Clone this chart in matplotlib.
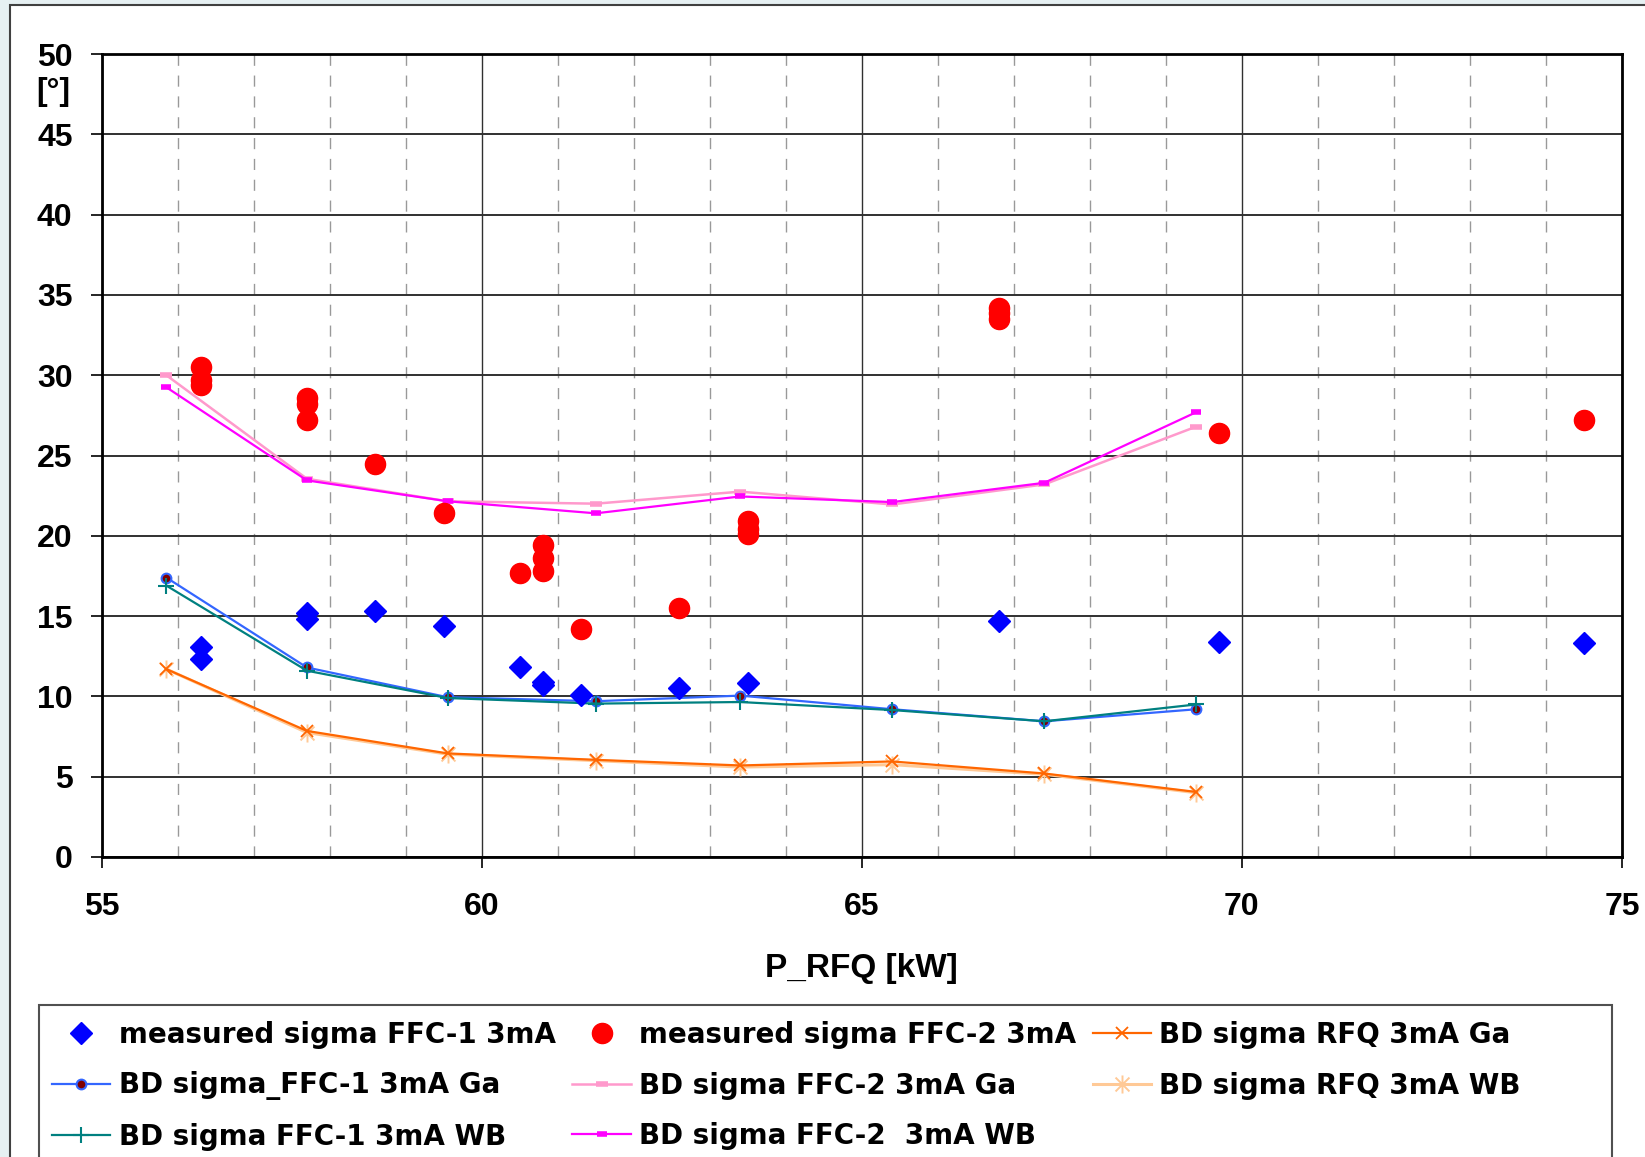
import matplotlib
matplotlib.use("Agg")
import matplotlib.pyplot as plt
from matplotlib.path import Path
from matplotlib.patches import Rectangle
from matplotlib.ticker import MultipleLocator

plt.rcParams['font.family'] = ['Liberation Sans', 'DejaVu Sans']
plt.rcParams['font.weight'] = 'bold'

# measured beam phase widths
meas_ffc1_x = [56.3, 56.3, 57.7, 57.7, 58.6, 59.5, 60.5, 60.8, 60.8, 61.3, 62.6, 63.5, 66.8, 69.7, 74.5]
meas_ffc1_y = [13.1, 12.3, 15.2, 14.8, 15.3, 14.4, 11.8, 10.9, 10.7, 10.1, 10.5, 10.85, 14.7, 13.4, 13.3]

meas_ffc2_x = [56.3, 56.3, 56.3, 57.7, 57.7, 57.7, 58.6, 59.5, 60.5, 60.8, 60.8, 60.8,
               61.3, 62.6, 63.5, 63.5, 63.5, 66.8, 66.8, 66.8, 69.7, 74.5]
meas_ffc2_y = [30.5, 29.7, 29.4, 28.6, 28.2, 27.2, 24.5, 21.4, 17.7, 19.4, 18.6, 17.8,
               14.2, 15.5, 20.9, 20.4, 20.1, 34.2, 33.9, 33.5, 26.4, 27.2]

# beam dynamics simulations
p_rfq = [55.85, 57.7, 59.55, 61.5, 63.4, 65.4, 67.4, 69.4]
bd_ffc1_ga = [17.4, 11.8, 9.95, 9.7, 10.05, 9.2, 8.45, 9.2]
bd_ffc1_wb = [16.9, 11.6, 9.9, 9.55, 9.65, 9.15, 8.45, 9.5]
bd_rfq_ga = [11.7, 7.85, 6.45, 6.05, 5.7, 5.95, 5.2, 4.05]
bd_rfq_wb = [11.7, 7.75, 6.4, 6.0, 5.6, 5.75, 5.15, 4.0]
bd_ffc2_ga = [30.0, 23.55, 22.15, 22.0, 22.75, 21.95, 23.2, 26.8]
bd_ffc2_wb = [29.25, 23.45, 22.15, 21.4, 22.45, 22.1, 23.3, 27.7]

# Excel style asterisk: an X with a vertical bar
asterisk = Path([(-1, -1), (1, 1), (-1, 1), (1, -1), (0, -1.3), (0, 1.3)],
                [Path.MOVETO, Path.LINETO] * 3)

W, H = 1645, 1157
fig = plt.figure(figsize=(W / 100, H / 100), dpi=100, facecolor='#e6f0f2')
fig.patches.append(Rectangle((10 / W, -0.01), 1.0, 1 - 5 / H + 0.01, transform=fig.transFigure,
                             facecolor='white', edgecolor='#404040', linewidth=1.5, zorder=-2))

ax = fig.add_axes([101.7 / W, 1 - 857 / H, (1622 - 101.7) / W, (857 - 54) / H])
ax.set_zorder(2)
ax.set_facecolor('white')

h1, = ax.plot(meas_ffc1_x, meas_ffc1_y, 'D', color='#0000ff', ms=11, mec='#0000ff', zorder=5,
              label='measured sigma FFC-1 3mA')
h2, = ax.plot(meas_ffc2_x, meas_ffc2_y, 'o', color='#ff0000', ms=14.5, mec='#ff0000', zorder=5,
              label='measured sigma FFC-2 3mA')
h6, = ax.plot(p_rfq, bd_rfq_wb, color='#ffc996', lw=2.2, marker=asterisk, ms=13, mew=1.4, zorder=3,
              label='BD sigma RFQ 3mA WB')
h3, = ax.plot(p_rfq, bd_rfq_ga, color='#ff6600', lw=1.6, marker='x', ms=9, mew=1.3, zorder=4,
              label='BD sigma RFQ 3mA Ga')
h4, = ax.plot(p_rfq, bd_ffc1_ga, color='#3366ff', lw=1.6, marker='o', ms=7, mfc='#800000',
              mec='#3366ff', mew=1.5, zorder=4, label='BD sigma_FFC-1 3mA Ga')
h5, = ax.plot(p_rfq, bd_ffc2_ga, color='#ff99cc', lw=1.8, marker='_', ms=9, mew=4, zorder=4,
              label='BD sigma FFC-2 3mA Ga')
h7, = ax.plot(p_rfq, bd_ffc1_wb, color='#008080', lw=1.6, marker='+', ms=12, mew=1.5, zorder=4,
              label='BD sigma FFC-1 3mA WB')
h8, = ax.plot(p_rfq, bd_ffc2_wb, color='#ff00ff', lw=1.6, marker='_', ms=7, mew=4, zorder=4,
              label='BD sigma FFC-2  3mA WB')

ax.set_xlim(55, 75)
ax.set_ylim(0, 50)
ax.xaxis.set_major_locator(MultipleLocator(5))
ax.xaxis.set_minor_locator(MultipleLocator(1))
ax.yaxis.set_major_locator(MultipleLocator(5))

ax.grid(which='major', axis='y', color='#303030', lw=1.4, zorder=1)
ax.grid(which='major', axis='x', color='#303030', lw=1.0, zorder=1)
ax.grid(which='minor', axis='x', color='#999999', lw=1.0, ls=(0, (8, 7)), zorder=1)
ax.set_axisbelow(True)

for side in ['left', 'right', 'top', 'bottom']:
    ax.spines[side].set_linewidth(2)
    ax.spines[side].set_color('black')

ax.tick_params(axis='both', which='major', direction='out', length=8, width=1.2,
               labelsize=23, colors='black')
ax.tick_params(axis='y', pad=13)
ax.tick_params(axis='x', pad=17)
ax.tick_params(which='minor', length=0)
for lab in ax.get_xticklabels() + ax.get_yticklabels():
    lab.set_fontweight('bold')

ax.set_xlabel('P_RFQ [kW]', fontsize=24, fontweight='bold', labelpad=22.5)
fig.text(53 / W, 1 - 92 / H, '[°]', fontsize=23, fontweight='bold', ha='center', va='center')

# legend frame, running off the bottom edge
fig.patches.append(Rectangle((39 / W, -0.01), (1612 - 39) / W, 0.01 + 1 - 1005 / H,
                             transform=fig.transFigure, facecolor='white',
                             edgecolor='#505050', linewidth=1.5, zorder=-1))
handles = [h1, h4, h7, h2, h5, h8, h3, h6]
leg = fig.legend(handles=handles, labels=[h.get_label() for h in handles], ncol=3,
                 loc='upper left', bbox_to_anchor=(52 / W, 1 - 1021 / H), frameon=False,
                 prop={'family': 'DejaVu Sans', 'size': 20, 'weight': 'bold'},
                 handlelength=2.1, handletextpad=0.3, columnspacing=0.6,
                 labelspacing=0.81, borderpad=0, borderaxespad=0)

fig.savefig('out.png', dpi=100, facecolor=fig.get_facecolor())
